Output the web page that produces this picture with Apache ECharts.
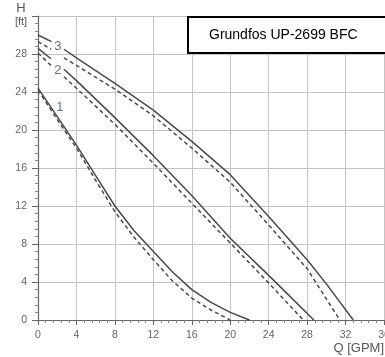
<!DOCTYPE html>
<html><head><meta charset="utf-8">
<script src="https://cdn.jsdelivr.net/npm/echarts@6/dist/echarts.min.js"></script>
<style>html,body{margin:0;padding:0;background:#fff}#c{width:385px;height:357px}</style>
</head><body><div id="c"></div>
<script>
// Flow Q [GPM] and head H [ft] (null = gap behind curve label)
var q3Solid = [0, 1.4, null, 2.7, 4, 8, 12, 16, 20, 24, 28, 30, 32.8];
var h3Solid = [30.0, 29.3, null, 28.5, 27.6, 24.9, 22.1, 18.8, 15.3, 10.9, 6.35, 3.8, 0];
var q3Dash  = [0, 1.35, null, 2.7, 4, 8, 12, 16, 20, 24, 28, 31.4];
var h3Dash  = [29.3, 28.5, null, 27.6, 26.8, 24.3, 21.5, 18.1, 14.5, 10.0, 5.4, 0];
var q2Solid = [0, 1.35, null, 2.7, 4, 8, 12, 16, 20, 24, 26, 28.7];
var h2Solid = [28.6, 27.5, null, 26.4, 25.2, 21.3, 17.3, 13.1, 8.6, 4.7, 2.7, 0];
var q2Dash  = [0, 1.35, null, 2.7, 4, 8, 12, 16, 20, 24, 27.6];
var h2Dash  = [28.1, 26.8, null, 25.6, 24.4, 20.6, 16.5, 12.3, 8.1, 3.9, 0];
var q1Solid = [0, 2, 4, 6, 8, 10, 12, 14, 16, 18, 20, 22];
var h1Solid = [24.4, 21.4, 18.4, 15.2, 12.0, 9.4, 7.2, 5.05, 3.2, 1.85, 0.8, 0];
var q1Dash  = [0, 2, 4, 6, 8, 10, 12, 14, 16, 18, 20];
var h1Dash  = [24.2, 21.1, 18.1, 14.7, 11.4, 8.7, 6.35, 4.1, 2.3, 1.05, 0];
var curveLabels = ['1', '2', '3'];
var labelQ = [2.28, 2.07, 2.07];
var labelH = [22.35, 26.3, 28.8];
var xTicks = [0, 4, 8, 12, 16, 20, 24, 28, 32, 36];
var yTicks = [0, 4, 8, 12, 16, 20, 24, 28, 32];
var title = 'Grundfos UP-2699 BFC';

function pts(q, h) { return q.map(function (v, i) { return v === null ? '-' : [v, h[i]]; }); }
var LINE = '#4a4a4a';
function curve(q, h, dashed) {
  return {
    type: 'line', data: pts(q, h), symbol: 'none', smooth: false, z: 3,
    connectNulls: false,
    lineStyle: { color: LINE, width: 1.5, type: dashed ? [4, 3] : 'solid' }
  };
}
function lab(i, color) {
  return {
    type: 'scatter', data: [[labelQ[i], labelH[i]]], symbolSize: 0, z: 10,
    label: {
      show: true, position: 'inside', formatter: curveLabels[i],
      fontSize: 13, fontFamily: 'Liberation Sans, Arial, sans-serif', color: color
    }
  };
}
var AX = '#666';
var chart = echarts.init(document.getElementById('c'), null, { renderer: 'canvas' });
chart.setOption({
  animation: false,
  grid: { left: 38, top: 16, right: 1, bottom: 37, containLabel: false, outerBoundsMode: 'none' },
  xAxis: [{
    type: 'value', min: xTicks[0], max: xTicks[xTicks.length - 1], interval: 4,
    axisLine: { onZero: false, lineStyle: { color: AX, width: 1.2 } },
    axisTick: { show: true, length: 5, lineStyle: { color: AX } },
    minorTick: { show: true, splitNumber: 5, length: 3, lineStyle: { color: '#888' } },
    splitLine: { show: true, lineStyle: { color: '#c4c4c4', width: 1 } },
    axisLabel: { color: AX, fontSize: 10.5, margin: 10, fontFamily: 'Liberation Sans, Arial, sans-serif' }
  }, {
    type: 'value', position: 'top', min: xTicks[0], max: xTicks[xTicks.length - 1],
    axisLine: { show: true, lineStyle: { color: AX, width: 1.2 } },
    axisTick: { show: false }, axisLabel: { show: false }, splitLine: { show: false }
  }],
  yAxis: {
    type: 'value', min: yTicks[0], max: yTicks[yTicks.length - 1], interval: 4,
    axisLine: { show: true, onZero: false, lineStyle: { color: AX, width: 1.2 } },
    axisTick: { show: true, length: 6, lineStyle: { color: AX } },
    minorTick: { show: true, splitNumber: 5, length: 3, lineStyle: { color: '#888' } },
    splitLine: { show: true, lineStyle: { color: '#c4c4c4', width: 1 } },
    axisLabel: {
      color: AX, fontSize: 10.5, margin: 11, fontFamily: 'Liberation Sans, Arial, sans-serif',
      formatter: function (v) { return v === yTicks[yTicks.length - 1] ? '' : String(v); }
    }
  },
  series: [
    curve(q3Solid, h3Solid, false), curve(q3Dash, h3Dash, true),
    curve(q2Solid, h2Solid, false), curve(q2Dash, h2Dash, true),
    curve(q1Solid, h1Solid, false), curve(q1Dash, h1Dash, true),
    lab(0, '#3d5073'), lab(1, '#4a4a4a'), lab(2, '#4a4a4a')
  ],
  graphic: [
    { type: 'rect', z: 20, shape: { x: 188, y: 17, width: 210, height: 36 },
      style: { fill: '#fff', stroke: '#000', lineWidth: 2 } },
    { type: 'text', z: 21, x: 209, y: 35,
      style: { text: title, fill: '#000', font: '14px Liberation Sans, Arial, sans-serif', textVerticalAlign: 'middle' } },
    { type: 'text', z: 21, x: 21, y: 8,
      style: { text: 'H', fill: '#555', font: '13px Liberation Sans, Arial, sans-serif', textAlign: 'center', textVerticalAlign: 'middle' } },
    { type: 'text', z: 21, x: 21, y: 22,
      style: { text: '[ft]', fill: '#555', font: '11px Liberation Sans, Arial, sans-serif', textAlign: 'center', textVerticalAlign: 'middle' } },
    { type: 'text', z: 21, x: 384, y: 348,
      style: { text: 'Q [GPM]', fill: '#555', font: '13px Liberation Sans, Arial, sans-serif', textAlign: 'right', textVerticalAlign: 'middle' } }
  ]
});
</script></body></html>
